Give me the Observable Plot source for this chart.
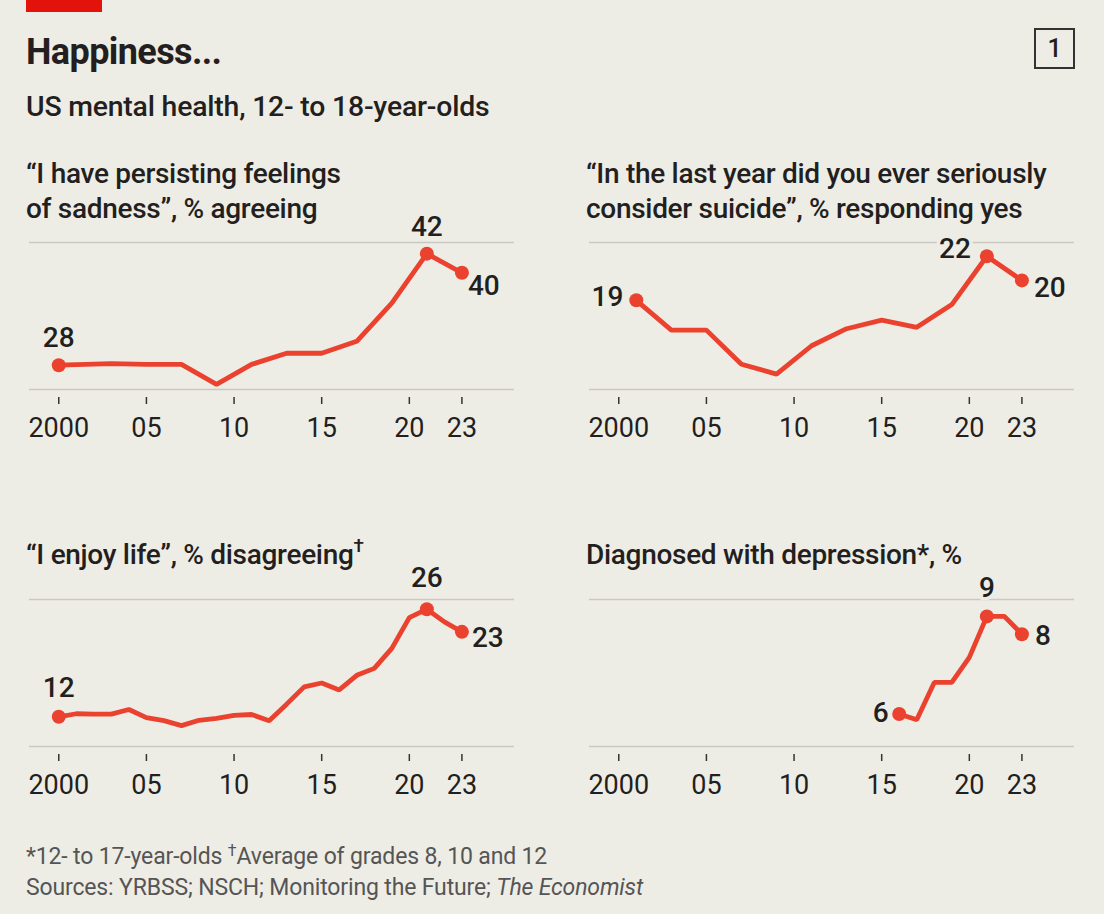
<!DOCTYPE html>
<html>
<head>
<meta charset="utf-8">
<script src="https://cdn.jsdelivr.net/npm/d3@7"></script>
<script src="https://cdn.jsdelivr.net/npm/@observablehq/plot@0.6"></script>
<style>
  html, body { margin: 0; padding: 0; background: #eeede5; }
  #page { position: relative; width: 1104px; height: 914px; background: #eeede5; overflow: hidden;
          font-family: Roboto, "Noto Sans", sans-serif; color: #231f20; }
  .abs { position: absolute; white-space: nowrap; }
  .ptitle { font-size: 28px; font-weight: 500; line-height: 35px; letter-spacing: -0.3px; }
  .panel svg { overflow: visible; background: transparent; }
  .foot { font-size: 23px; line-height: 29px; color: #555; letter-spacing: -0.15px; }
</style>
</head>
<body>
<div id="page">
  <div class="abs" style="left:26px;top:0;width:76px;height:12px;background:#e3120b"></div>
  <div class="abs" style="left:26px;top:34px;font-size:36px;line-height:36px;font-weight:700;letter-spacing:-0.6px">Happiness...</div>
  <div class="abs" style="left:1034px;top:28px;width:37px;height:37px;border:2px solid #333;font-size:25px;line-height:37px;text-align:center;font-weight:500">1</div>
  <div class="abs" style="left:26px;top:93px;font-size:28.4px;line-height:28px;font-weight:500;letter-spacing:-0.2px">US mental health, 12- to 18-year-olds</div>

  <div class="abs ptitle" style="left:26px;top:156px">“I have persisting feelings<br>of sadness”, % agreeing</div>
  <div class="abs ptitle" style="left:586px;top:156px">“In the last year did you ever seriously<br>consider suicide”, % responding yes</div>
  <div class="abs ptitle" style="left:26px;top:537px">“I enjoy life”, % disagreeing<sup style="font-size:19px;vertical-align:0;position:relative;top:-12px">†</sup></div>
  <div class="abs ptitle" style="left:586px;top:537px">Diagnosed with depression*, %</div>

  <div class="abs panel" id="p1" style="left:0;top:200px"></div>
  <div class="abs panel" id="p2" style="left:560px;top:200px"></div>
  <div class="abs panel" id="p3" style="left:0;top:557px"></div>
  <div class="abs panel" id="p4" style="left:560px;top:557px"></div>

  <div class="abs foot" style="left:26px;top:842px">*12- to 17-year-olds <sup style="font-size:16px;vertical-align:0;position:relative;top:-8px">†</sup>Average of grades 8, 10 and 12<br>Sources: YRBSS; NSCH; Monitoring the Future; <i>The Economist</i></div>
</div>

<script>
// ---- Data ----
const sadnessYears  = [2000, 2003, 2005, 2007, 2009, 2011, 2013, 2015, 2017, 2019, 2021, 2023];
const sadnessValues = [28.3, 28.5, 28.4, 28.4, 25.9, 28.4, 29.8, 29.8, 31.3, 36.1, 42.3, 39.9];

const suicideYears  = [2001, 2003, 2005, 2007, 2009, 2011, 2013, 2015, 2017, 2019, 2021, 2023];
const suicideValues = [19.0, 16.9, 16.9, 14.5, 13.8, 15.8, 17.0, 17.6, 17.1, 18.7, 22.1, 20.4];

const enjoyYears  = [2000, 2001, 2002, 2003, 2004, 2005, 2006, 2007, 2008, 2009, 2010, 2011,
                     2012, 2013, 2014, 2015, 2016, 2017, 2018, 2019, 2020, 2021, 2022, 2023];
const enjoyValues = [12.0, 12.4, 12.35, 12.35, 12.95, 11.9, 11.5, 10.85, 11.55, 11.8, 12.2, 12.3,
                     11.5, 13.65, 15.9, 16.4, 15.5, 17.4, 18.3, 20.9, 24.9, 26.0, 24.35, 23.05];

const depressionYears  = [2016, 2017, 2018, 2019, 2020, 2021, 2022, 2023];
const depressionValues = [6.0, 5.82, 6.97, 6.97, 7.74, 9.0, 9.0, 8.45];

// y extents of the two gridlines per panel
const sadnessGrid    = [25.25, 43.7];
const suicideGrid    = [12.72, 23.07];
const enjoyGrid      = [8.14, 27.26];
const depressionGrid = [5.0, 9.52];

// x axis
const tickYears  = [2000, 2005, 2010, 2015, 2020, 2023];
const tickLabels = ["2000", "05", "10", "15", "20", "23"];
const xExtent = [1998.33, 2026];

// highlighted (labelled) years
const sadnessMarked    = [2000, 2021, 2023];
const suicideMarked    = [2001, 2021, 2023];
const enjoyMarked      = [2000, 2021, 2023];
const depressionMarked = [2016, 2021, 2023];

// ---- Drawing ----
const RED = "#eb422f";
const BG = "#eeede5";
const INK = "#231f20";

function rows(years, values) { return years.map((year, i) => ({year, value: values[i]})); }

function label(pts, year, anchor, dx, dy) {
  return Plot.text(pts.filter(d => d.year === year), {
    x: "year", y: "value", text: d => String(Math.round(d.value)),
    textAnchor: anchor, lineAnchor: "middle", dx, dy,
    fontSize: 28, fontWeight: 500, fill: INK,
    stroke: BG, strokeWidth: 7, paintOrder: "stroke"
  });
}

function panel(el, years, values, grid, marked, labelSpec) {
  const data = rows(years, values);
  const pts = data.filter(d => marked.includes(d.year));
  const chart = Plot.plot({
    width: 544, height: 250,
    marginLeft: 29, marginRight: 30, marginTop: 42, marginBottom: 61,
    style: {background: "transparent", fontFamily: "Roboto, sans-serif", overflow: "visible"},
    x: {domain: xExtent},
    y: {domain: grid, axis: null},
    marks: [
      Plot.ruleY(grid, {stroke: "#c9c8c2", strokeWidth: 1.6}),
      Plot.axisX(tickYears, {
        tickFormat: d => tickLabels[tickYears.indexOf(d)],
        tickSize: 7, tickPadding: 13, dy: 8,
        fontSize: 27, fontWeight: 400, stroke: "#333", strokeWidth: 1.5, fill: INK,
        label: null
      }),
      Plot.line(data, {x: "year", y: "value", stroke: RED, strokeWidth: 4.8, strokeLinejoin: "miter", strokeLinecap: "butt"}),
      Plot.dot(pts, {x: "year", y: "value", r: 7, fill: RED, stroke: "none"}),
      ...labelSpec.map(s => label(pts, ...s))
    ]
  });
  document.getElementById(el).appendChild(chart);
}

panel("p1", sadnessYears, sadnessValues, sadnessGrid, sadnessMarked, [
  [2000, "middle", 0, -27.5], [2021, "middle", 0, -27], [2023, "start", 6, 13]
]);
panel("p2", suicideYears, suicideValues, suicideGrid, suicideMarked, [
  [2001, "end", -13, -3.5], [2021, "end", -16, -7], [2023, "start", 12, 7.5]
]);
panel("p3", enjoyYears, enjoyValues, enjoyGrid, enjoyMarked, [
  [2000, "middle", 0, -28.5], [2021, "middle", 0, -31], [2023, "start", 10, 6]
]);
panel("p4", depressionYears, depressionValues, depressionGrid, depressionMarked, [
  [2016, "end", -10.5, -1], [2021, "middle", 0, -28], [2023, "start", 13, 2]
]);
</script>
</body>
</html>
